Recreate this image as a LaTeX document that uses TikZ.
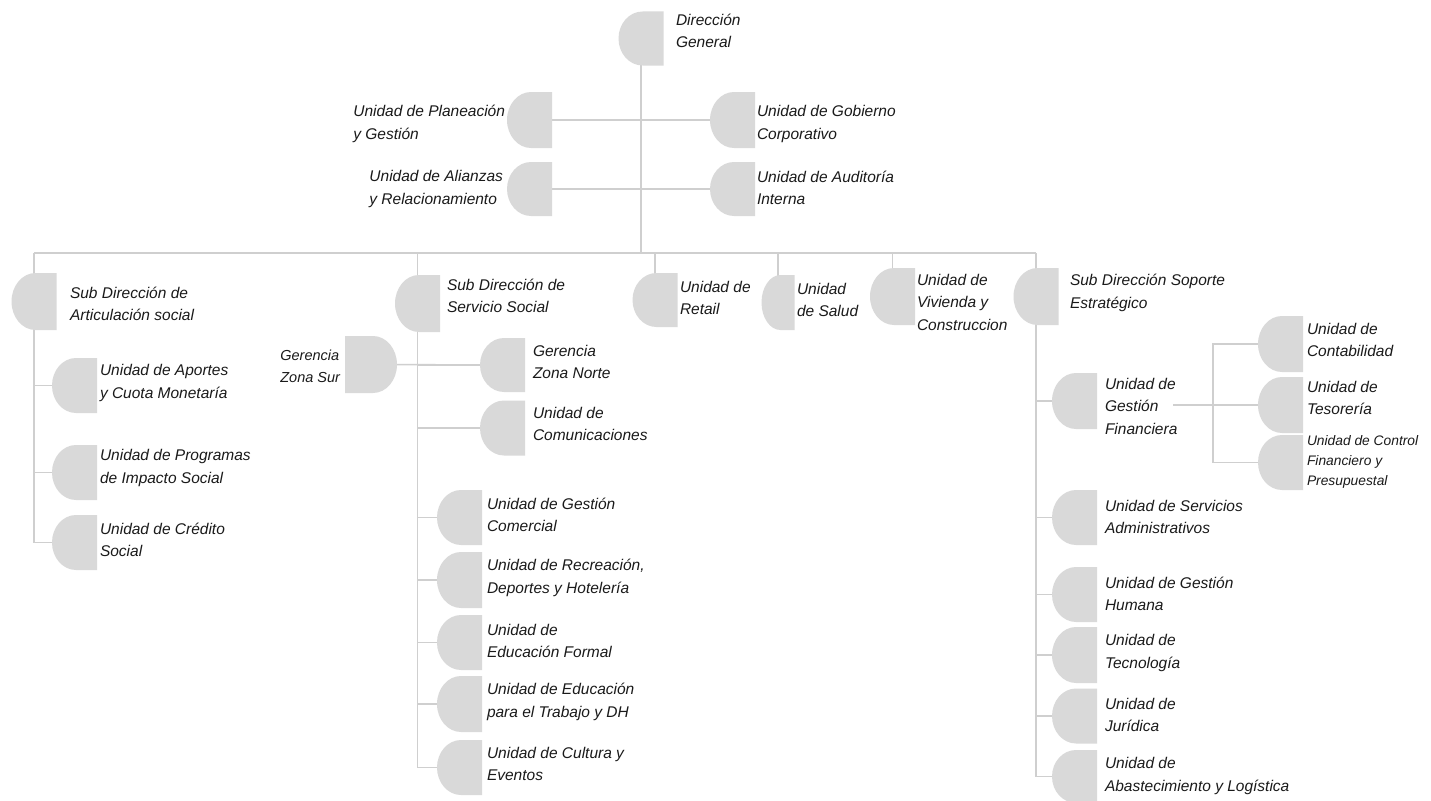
\documentclass[tikz,border=0pt]{standalone}
\usepackage{fontspec}
\setmainfont{Liberation Sans}
\usetikzlibrary{calc}
\definecolor{shapegray}{HTML}{D9D9D9}
\definecolor{linegray}{HTML}{CFCFCF}
\definecolor{textc}{HTML}{1A1A1A}
\pgfdeclarelayer{bg}
\pgfsetlayers{bg,main}
\pgfkeys{/tikz/dshrad/.initial=24pt}
\tikzset{
  dsh/.style={inner sep=0pt, outer sep=0pt, minimum width=45pt, minimum height=#1pt,
    path picture={\fill[shapegray] let \p1=(path picture bounding box.north west),
      \p2=(path picture bounding box.south east) in
      (\x2,\y1) -- (\x1+\pgfkeysvalueof{/tikz/dshrad},\y1)
      arc[start angle=90, end angle=270, x radius=\pgfkeysvalueof{/tikz/dshrad}, y radius={(\y1-\y2)/2}]
      -- (\x2,\y2) -- cycle;}},
  dsh/.default=55,
  dshm/.style={inner sep=0pt, outer sep=0pt, minimum width=52pt, minimum height=#1pt,
    path picture={\fill[shapegray] let \p1=(path picture bounding box.north west),
      \p2=(path picture bounding box.south east) in
      (\x1,\y1) -- (\x2-\pgfkeysvalueof{/tikz/dshrad},\y1)
      arc[start angle=90, end angle=-90, x radius=\pgfkeysvalueof{/tikz/dshrad}, y radius={(\y1-\y2)/2}]
      -- (\x1,\y2) -- cycle;}},
  dshm/.default=57,
  lbl/.style={inner sep=0pt, outer sep=0pt, align=left, text=textc,
    font=\fontsize{15.5}{22.5}\selectfont\itshape},
  lbls/.style={inner sep=0pt, outer sep=0pt, align=left, text=textc,
    font=\fontsize{13.8}{20}\selectfont\itshape},
  lblz/.style={inner sep=0pt, outer sep=0pt, align=left, text=textc,
    font=\fontsize{14.5}{22}\selectfont\itshape},
  conn/.style={draw=linegray, line width=1.5pt},
}
\begin{document}
\begin{tikzpicture}[x=1pt, y=-1pt]
\useasboundingbox (0,0) rectangle (1431,800);
\begin{pgfonlayer}{bg}
\fill[white] (0,0) rectangle (1431,800);
\end{pgfonlayer}

% ---- shapes ----
\node[dsh=54] (dg) at (641,38.5) {};
\node[dsh=56] (plan) at (529.5,120) {};
\node[dsh=56] (gob) at (732.5,120) {};
\node[dsh=54] (ali) at (529.5,189) {};
\node[dsh=54] (aud) at (732.5,189) {};

\node[dsh=57] (art) at (34,301.5) {};
\node[dsh=57] (ss) at (417.5,303.5) {};
\node[dsh=54] (ret) at (655,300) {};
\node[dsh=55, minimum width=33pt, dshrad=19pt] (sal) at (778,302.5) {};
\node[dsh=57] (viv) at (892.5,296.5) {};
\node[dsh=57] (sop) at (1036,296.5) {};

\node[dsh=55] (apo) at (74.5,385.5) {};
\node[dsh=55] (prog) at (74.5,472.5) {};
\node[dsh=55] (cred) at (74.5,542.5) {};

\node[dshm=57] (zs) at (371,364.5) {};
\node[dsh=54] (zn) at (502.5,365) {};
\node[dsh=55] (com) at (502.5,428) {};
\node[dsh=55] (gc) at (459.5,517.5) {};
\node[dsh=56] (rec) at (459.5,580) {};
\node[dsh=55] (ef) at (459.5,642.5) {};
\node[dsh=56] (et) at (459.5,704) {};
\node[dsh=55] (cul) at (459.5,767.5) {};

\node[dsh=56] (gf) at (1074.5,401) {};
\node[dsh=56] (cont) at (1280.5,344) {};
\node[dsh=56] (tes) at (1280.5,405) {};
\node[dsh=55] (cpf) at (1280.5,462.5) {};
\node[dsh=55] (sa) at (1074.5,517.5) {};
\node[dsh=55] (gh) at (1074.5,594.5) {};
\node[dsh=56] (tec) at (1074.5,655) {};
\node[dsh=55] (jur) at (1074.5,716) {};
\node[dsh=53] (aba) at (1074.5,776.5) {};

% ---- labels ----
\node[lbl, anchor=west] (dgT) at (676,31) {Dirección\\General};
\node[lbl, anchor=east] (planT) at (505,124) {Unidad de Planeación\\y Gestión};
\node[lbl, anchor=east] (aliT) at (503,189) {Unidad de Alianzas\\y Relacionamiento};
\node[lbl, anchor=west] (gobT) at (757,124) {Unidad de Gobierno\\Corporativo};
\node[lbl, anchor=west] (audT) at (757,188) {Unidad de Auditoría\\Interna};

\node[lbl, anchor=west] (artT) at (70,304) {Sub Dirección de\\Articulación social};
\node[lbl, anchor=west] (ssT) at (447,296) {Sub Dirección de\\Servicio Social};
\node[lbl, anchor=west] (retT) at (680,298) {Unidad de\\Retail};
\node[lbl, anchor=west] (salT) at (797,300) {Unidad\\de Salud};
\node[lbl, anchor=west] (vivT) at (917,302) {Unidad de\\Vivienda y\\Construccion};
\node[lbl, anchor=west] (sopT) at (1070,293) {Sub Dirección Soporte\\Estratégico};

\node[lbl, anchor=west] (apoT) at (100,383) {Unidad de Aportes\\y Cuota Monetaría};
\node[lbl, anchor=west] (progT) at (100,468) {Unidad de Programas\\de Impacto Social};
\node[lbl, anchor=west] (credT) at (100,540) {Unidad de Crédito\\Social};

\node[lblz, anchor=east] (zsT) at (340,366) {Gerencia\\Zona Sur};
\node[lbl, anchor=west] (znT) at (533,362) {Gerencia\\Zona Norte};
\node[lbl, anchor=west] (comT) at (533,424) {Unidad de\\Comunicaciones};
\node[lbl, anchor=west] (gcT) at (487,515) {Unidad de Gestión\\Comercial};
\node[lbl, anchor=west] (recT) at (487,578) {Unidad de Recreación,\\Deportes y Hotelería};
\node[lbl, anchor=west] (efT) at (487,641) {Unidad de\\Educación Formal};
\node[lbl, anchor=west] (etT) at (487,702) {Unidad de Educación\\para el Trabajo y DH};
\node[lbl, anchor=west] (culT) at (487,764) {Unidad de Cultura y\\Eventos};

\node[lbl, anchor=west] (gfT) at (1105,406) {Unidad de\\Gestión\\Financiera};
\node[lbl, anchor=west] (contT) at (1307,340) {Unidad de\\Contabilidad};
\node[lbl, anchor=west] (tesT) at (1307,398) {Unidad de\\Tesorería};
\node[lbls, anchor=west] (cpfT) at (1307,462) {Unidad de Control\\Financiero y\\Presupuestal};
\node[lbl, anchor=west] (saT) at (1105,517) {Unidad de Servicios\\Administrativos};
\node[lbl, anchor=west] (ghT) at (1105,594) {Unidad de Gestión\\Humana};
\node[lbl, anchor=west] (tecT) at (1105,653) {Unidad de\\Tecnología};
\node[lbl, anchor=west] (jurT) at (1105,715) {Unidad de\\Jurídica};
\node[lbl, anchor=west] (abaT) at (1105,776) {Unidad de\\Abastecimiento y Logística};

% ---- connectors ----
\coordinate (busy) at (0,253);
\coordinate (gfo) at (1173,405);
\coordinate (gfb) at (1213,405);
\begin{pgfonlayer}{bg}
\draw[conn] (dg.center) -- (dg.center |- busy);
\draw[conn] (plan.center) -- (gob.center);
\draw[conn] (ali.center) -- (aud.center);
\draw[conn] (art.center |- busy) -- (sop.center |- busy);
\foreach \n in {art,ss,ret,sal,viv,sop}
  \draw[conn] (\n.center |- busy) -- (\n.center);
% Articulacion
\draw[conn] (art.center) |- (cred.center);
\foreach \n in {apo,prog}
  \draw[conn] (art.center |- \n.center) -- (\n.center);
% Servicio social
\draw[conn] (ss.center) |- (cul.center);
\foreach \n in {zn,com,gc,rec,ef,et}
  \draw[conn] (ss.center |- \n.center) -- (\n.center);
\draw[conn] (zs.center) -- (zn.center);
% Soporte
\draw[conn] (sop.center) |- (aba.center);
\foreach \n in {gf,sa,gh,tec,jur}
  \draw[conn] (sop.center |- \n.center) -- (\n.center);
% Gestion financiera
\draw[conn] (gfo) -- (tes.center);
\draw[conn] (cont.center) -| (gfb |- cpf.center) -- (cpf.center);
\end{pgfonlayer}
\end{tikzpicture}
\end{document}
